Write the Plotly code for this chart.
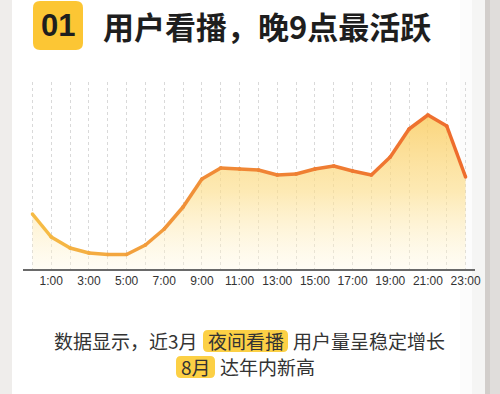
import plotly.graph_objects as go

# ---- data ----
hours = list(range(24))
activity = [55, 32, 21, 16, 14.5, 14.5, 24, 40, 62, 90, 101, 100, 99, 94, 95, 100,
            103, 98, 94, 112, 140, 154, 143, 92]
tick_hours = [1, 3, 5, 7, 9, 11, 13, 15, 17, 19, 21, 23]
tick_labels = [f"{h}:00" for h in tick_hours]

title_num = "01"
title_text = "用户看播，晚9点最活跃"

# ---- layout geometry (pixels) ----
W, H = 500, 394
L, R, T, B = 23, 25, 82, 125
PW, PH = W - L - R, H - T - B


def px(x):
    return (x - L) / PW


def py(y):
    return (H - B - y) / PH


def rrect(x0, y0, x1, y1, r):
    pts = [
        f"M {px(x0 + r)},{py(y0)}",
        f"L {px(x1 - r)},{py(y0)}",
        f"Q {px(x1)},{py(y0)} {px(x1)},{py(y0 + r)}",
        f"L {px(x1)},{py(y1 - r)}",
        f"Q {px(x1)},{py(y1)} {px(x1 - r)},{py(y1)}",
        f"L {px(x0 + r)},{py(y1)}",
        f"Q {px(x0)},{py(y1)} {px(x0)},{py(y1 - r)}",
        f"L {px(x0)},{py(y0 + r)}",
        f"Q {px(x0)},{py(y0)} {px(x0 + r)},{py(y0)}",
        "Z",
    ]
    return " ".join(pts)


def lerp_color(t):
    stops = [(0.0, (246, 190, 70)), (0.4, (240, 140, 55)), (1.0, (238, 108, 45))]
    for (t0, c0), (t1, c1) in zip(stops[:-1], stops[1:]):
        if t <= t1:
            f = (t - t0) / (t1 - t0)
            c = [round(a + (b - a) * f) for a, b in zip(c0, c1)]
            return f"rgb({c[0]},{c[1]},{c[2]})"
    c = stops[-1][1]
    return f"rgb({c[0]},{c[1]},{c[2]})"


fig = go.Figure()

# area fill with vertical gradient
fig.add_trace(go.Scatter(
    x=hours, y=activity, mode="lines", line=dict(width=0),
    fill="tozeroy",
    fillgradient=dict(type="vertical",
                      colorscale=[[0, "rgba(255,248,225,0.35)"],
                                  [0.5, "rgba(252,222,140,0.65)"],
                                  [1, "rgba(250,205,100,0.85)"]]),
    hoverinfo="skip", showlegend=False,
))

# line drawn segment by segment to get a colour gradient
n = len(hours)
for i in range(n - 1):
    col = lerp_color((i + 0.5) / (n - 1))
    fig.add_trace(go.Scatter(
        x=hours[i:i + 2], y=activity[i:i + 2], mode="lines+markers",
        line=dict(color=col, width=3.5),
        marker=dict(color=col, size=3.5),
        hoverinfo="skip", showlegend=False,
    ))

shapes = [
    # left grey strip
    dict(type="rect", xref="paper", yref="paper", x0=px(0), x1=px(12), y0=py(H), y1=py(0),
         fillcolor="#efedeb", line=dict(width=0), layer="below"),
    # right shadow
    dict(type="rect", xref="paper", yref="paper", x0=px(460), x1=px(472), y0=py(H), y1=py(0),
         fillcolor="#fcfcfc", line=dict(width=0), layer="below"),
    dict(type="rect", xref="paper", yref="paper", x0=px(472), x1=px(485), y0=py(H), y1=py(0),
         fillcolor="#f5f5f4", line=dict(width=0), layer="below"),
    dict(type="rect", xref="paper", yref="paper", x0=px(485), x1=px(490), y0=py(H), y1=py(0),
         fillcolor="#d2cecb", line=dict(width=0), layer="below"),
    dict(type="rect", xref="paper", yref="paper", x0=px(490), x1=px(500), y0=py(H), y1=py(0),
         fillcolor="#e0dddb", line=dict(width=0), layer="below"),
    # title number box
    dict(type="path", xref="paper", yref="paper", path=rrect(33, 1, 83, 50, 7),
         fillcolor="#fcc634", line=dict(width=0), layer="below"),
    # highlight boxes
    dict(type="path", xref="paper", yref="paper", path=rrect(203, 330, 288, 352, 5),
         fillcolor="#fcd045", line=dict(width=0), layer="below"),
    dict(type="path", xref="paper", yref="paper", path=rrect(176, 356, 215, 378, 5),
         fillcolor="#fcd045", line=dict(width=0), layer="below"),
]

cjk = "Noto Sans CJK SC"
annotations = [
    dict(text=f"<b>{title_num}</b>", x=px(58), y=py(26), xref="paper", yref="paper",
         showarrow=False, xanchor="center", yanchor="middle",
         font=dict(family="Liberation Sans", size=31, color="#1e1e1e")),
    dict(text=f"<b>{title_text}</b>", x=px(101), y=py(26), xref="paper", yref="paper",
         showarrow=False, xanchor="left", yanchor="middle",
         font=dict(family=cjk, size=31, color="#1e1e1e")),
    dict(text="数据显示，近3月", x=px(126), y=py(340), xref="paper", yref="paper",
         showarrow=False, xanchor="center", yanchor="middle",
         font=dict(family=cjk, size=19, color="#333333")),
    dict(text="夜间看播", x=px(245.5), y=py(340), xref="paper", yref="paper",
         showarrow=False, xanchor="center", yanchor="middle",
         font=dict(family=cjk, size=19, color="#333333")),
    dict(text="用户量呈稳定增长", x=px(369), y=py(340), xref="paper", yref="paper",
         showarrow=False, xanchor="center", yanchor="middle",
         font=dict(family=cjk, size=19, color="#333333")),
    dict(text="8月", x=px(195.5), y=py(366), xref="paper", yref="paper",
         showarrow=False, xanchor="center", yanchor="middle",
         font=dict(family=cjk, size=19, color="#333333")),
    dict(text="达年内新高", x=px(267.5), y=py(366), xref="paper", yref="paper",
         showarrow=False, xanchor="center", yanchor="middle",
         font=dict(family=cjk, size=19, color="#333333")),
]

fig.update_layout(
    width=W, height=H,
    margin=dict(l=L, r=R, t=T, b=B, pad=0),
    paper_bgcolor="white", plot_bgcolor="rgba(0,0,0,0)",
    shapes=shapes, annotations=annotations,
    showlegend=False,
    xaxis=dict(
        range=[-0.5, 23.5], tickmode="array", tickvals=tick_hours, ticktext=tick_labels,
        showgrid=True, gridcolor="#d9d9d9", griddash="dot", gridwidth=1,
        minor=dict(tick0=0, dtick=1, showgrid=True, gridcolor="#d9d9d9", griddash="dot", gridwidth=1),
        showline=True, linecolor="#6a6a6a", linewidth=1.5,
        ticks="", ticklen=0,
        tickfont=dict(family="Liberation Sans", size=12, color="#333333"),
        zeroline=False, fixedrange=True,
    ),
    yaxis=dict(range=[0, 187], visible=False, showgrid=False, zeroline=False, fixedrange=True),
)

fig.write_html("out.html", post_script="document.body.style.margin='0';",
               config={"displayModeBar": False})
